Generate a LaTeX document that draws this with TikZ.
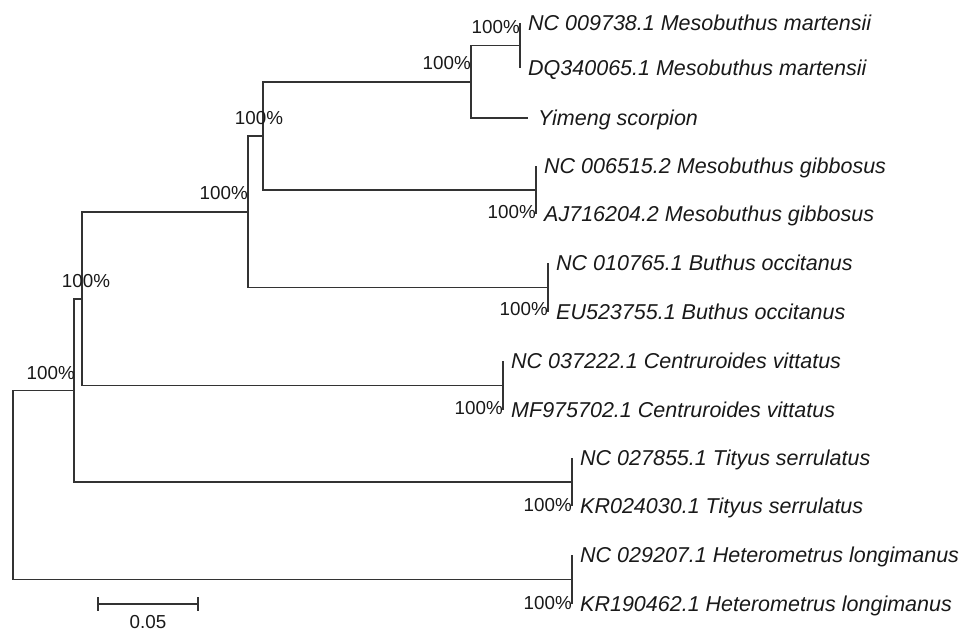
\documentclass[tikz,border=0pt]{standalone}
\usepackage{fontspec}
\setmainfont{Liberation Sans}
\usepackage{tikz}
\usetikzlibrary{positioning}

\begin{document}
\begin{tikzpicture}[x=1pt, y=-1pt,
    branch/.style={line width=1.7pt, black!80},
    leaf/.style={font=\fontsize{21.5}{24}\selectfont\itshape, text=black!90,
        inner sep=0pt, text height=15.4pt, text depth=0pt},
    boot/.style={font=\fontsize{18.8}{21}\selectfont, text=black!90,
        inner sep=0pt, text height=13.5pt, text depth=0pt}]
    \useasboundingbox (0,0) rectangle (969,633);

    % inner nodes
    \coordinate (root) at (13, 485);
    \coordinate (nE) at (74, 390.5);
    \coordinate (nD) at (82, 299);
    \coordinate (nC) at (248, 212);
    \coordinate (nB) at (263, 136);
    \coordinate (nA) at (471, 82);

    % sister pairs
    \coordinate (pMar) at (520, 45.5);
    \coordinate (pGib) at (536, 190);
    \coordinate (pBut) at (548, 287.5);
    \coordinate (pCen) at (503, 385.5);
    \coordinate (pTit) at (572, 482);
    \coordinate (pHet) at (572, 579.5);

    % leaves
    \coordinate (mar1) at (520, 23);
    \coordinate (mar2) at (520, 68);
    \coordinate (yim) at (528, 118);
    \coordinate (gib1) at (536, 166);
    \coordinate (gib2) at (536, 214);
    \coordinate (but1) at (548, 263);
    \coordinate (but2) at (548, 312);
    \coordinate (cen1) at (503, 361);
    \coordinate (cen2) at (503, 410);
    \coordinate (tit1) at (572, 458);
    \coordinate (tit2) at (572, 506);
    \coordinate (het1) at (572, 555);
    \coordinate (het2) at (572, 604);

    % branches
    \draw[branch] (root) |- (nE);
    \draw[branch] (root) |- (pHet);
    \draw[branch] (nE) |- (nD);
    \draw[branch] (nE) |- (pTit);
    \draw[branch] (nD) |- (nC);
    \draw[branch] (nD) |- (pCen);
    \draw[branch] (nC) |- (nB);
    \draw[branch] (nC) |- (pBut);
    \draw[branch] (nB) |- (nA);
    \draw[branch] (nB) |- (pGib);
    \draw[branch] (nA) |- (pMar);
    \draw[branch] (nA) |- (yim);
    \foreach \p in {mar, gib, but, cen, tit, het}
        \draw[branch] (\p1) -- (\p2);

    % taxa
    \node[leaf, right=8pt of mar1] (tMar1) {NC 009738.1 Mesobuthus martensii};
    \node[leaf, right=8pt of mar2] (tMar2) {DQ340065.1 Mesobuthus martensii};
    \node[leaf, right=10pt of yim] (tYim) {Yimeng scorpion};
    \node[leaf, right=8pt of gib1] (tGib1) {NC 006515.2 Mesobuthus gibbosus};
    \node[leaf, right=8pt of gib2] (tGib2) {AJ716204.2 Mesobuthus gibbosus};
    \node[leaf, right=8pt of but1] (tBut1) {NC 010765.1 Buthus occitanus};
    \node[leaf, right=8pt of but2] (tBut2) {EU523755.1 Buthus occitanus};
    \node[leaf, right=8pt of cen1] (tCen1) {NC 037222.1 Centruroides vittatus};
    \node[leaf, right=8pt of cen2] (tCen2) {MF975702.1 Centruroides vittatus};
    \node[leaf, right=8pt of tit1] (tTit1) {NC 027855.1 Tityus serrulatus};
    \node[leaf, right=8pt of tit2] (tTit2) {KR024030.1 Tityus serrulatus};
    \node[leaf, right=8pt of het1] (tHet1) {NC 029207.1 Heterometrus longimanus};
    \node[leaf, right=8pt of het2] (tHet2) {KR190462.1 Heterometrus longimanus};

    % bootstrap values
    \node[boot, anchor=east] (bMar) at ([yshift=-4pt]mar1) {100\%};
    \node[boot, anchor=east] (bA) at ([yshift=19pt]nA) {100\%};
    \node[boot] (bB) at ([xshift=-4pt, yshift=18pt]nB) {100\%};
    \node[boot, anchor=east] (bC) at ([yshift=19pt]nC) {100\%};
    \node[boot] (bD) at ([xshift=4pt, yshift=18pt]nD) {100\%};
    \node[boot, anchor=east] (bE) at ([xshift=1pt, yshift=17.5pt]nE) {100\%};
    \node[boot, anchor=east] (bGib) at ([yshift=2pt]gib2) {100\%};
    \node[boot, anchor=east] (bBut) at ([yshift=3pt]but2) {100\%};
    \node[boot, anchor=east] (bCen) at ([yshift=2pt]cen2) {100\%};
    \node[boot, anchor=east] (bTit) at ([yshift=1pt]tit2) {100\%};
    \node[boot, anchor=east] (bHet) at ([yshift=1pt]het2) {100\%};

    % scale bar
    \coordinate (sL) at (98, 604);
    \coordinate (sR) at (198, 604);
    \coordinate (sMid) at (148, 604);
    \draw[branch] (sL) -- (sR);
    \draw[branch] ([yshift=7pt]sL) -- ([yshift=-7pt]sL);
    \draw[branch] ([yshift=7pt]sR) -- ([yshift=-7pt]sR);
    \node[boot, below=11pt of sMid] (sLab) {0.05};
\end{tikzpicture}
\end{document}
